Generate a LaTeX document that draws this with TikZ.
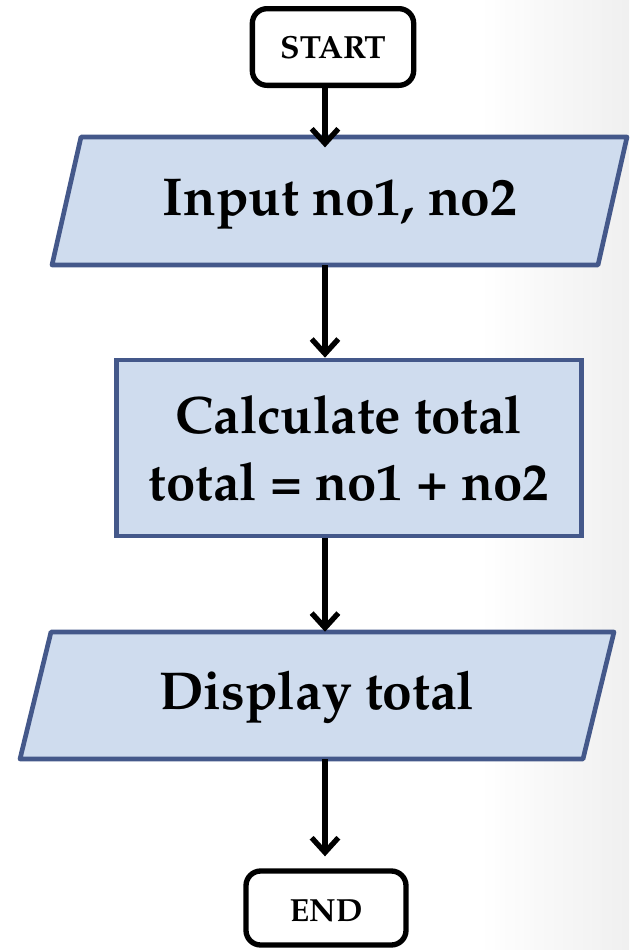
\documentclass[tikz,border=0pt]{standalone}
\usepackage[T1]{fontenc}
\usepackage{mathpazo}
\usetikzlibrary{arrows.meta,calc}
\definecolor{boxfill}{HTML}{CFDCEE}
\definecolor{boxline}{HTML}{44588A}
\tikzset{
  termbox/.style={draw=black, line width=4pt, rounded corners=11pt, fill=white,
    minimum width=121pt, minimum height=57.5pt, inner sep=0pt,
    font=\fontsize{24}{28}\selectfont\bfseries},
  procbox/.style={draw=boxline, line width=3.5pt, fill=boxfill,
    minimum width=348.75pt, minimum height=132pt, inner sep=0pt, align=center,
    font=\fontsize{39.5}{50}\selectfont\bfseries},
  iobox/.style={draw=boxline, line width=3.5pt, fill=boxfill, line join=round},
  iotext/.style={inner sep=0pt, text height=30pt, text depth=8.5pt,
    font=\fontsize{40}{46}\selectfont\bfseries},
  arr/.style={draw=black, line width=4.5pt,
    -{Straight Barb[length=11pt,width=20pt,line width=4pt]}},
}
\begin{document}
\begin{tikzpicture}[x=0.75pt,y=-0.75pt]
\useasboundingbox (0,0) rectangle (629,950);
\shade[left color=white, right color=black!6] (480,0) rectangle (629,950);
% spine for the connectors
\coordinate (spine) at (325,0);
% START
\node[termbox] (start) at (333,47) {START};
% Input parallelogram
\draw[iobox] (81,137) -- (627,137) -- (598,265) -- (52,265) -- cycle;
\node[iotext, minimum height=96pt] (in) at (340,201) {Input no1, no2};
% Process
\node[procbox] (calc) at (349,448) {Calculate total\\total = no1 + no2};
% Display parallelogram
\draw[iobox] (51,632) -- (614,632) -- (583,759) -- (20,759) -- cycle;
\node[iotext, minimum height=95.25pt] (out) at (317,695.5) {Display total};
% END
\node[termbox, minimum width=120pt, minimum height=55.5pt,
  text height=19.6pt, text depth=0pt] (end) at (326,908) {END};
% connectors
\draw[arr, shorten >=-8pt] (start.south -| spine) -- (in.north -| spine);
\draw[arr] (in.south -| spine) -- (calc.north -| spine);
\draw[arr] (calc.south -| spine) -- (out.north -| spine);
\draw[arr, shorten >=9pt] (out.south -| spine) -- (end.north -| spine);
\end{tikzpicture}
\end{document}
